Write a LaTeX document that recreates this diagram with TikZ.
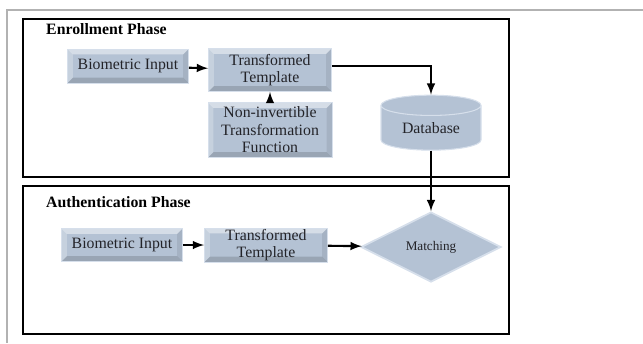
\documentclass[tikz,border=0pt]{standalone}
\usepackage{fontspec}
\setmainfont{Liberation Serif}
\usepackage{xcolor}
\usetikzlibrary{shapes.geometric}
\definecolor{boxfill}{RGB}{180,194,212}
\definecolor{boxedge}{RGB}{214,223,235}
\definecolor{inktext}{RGB}{35,35,40}
\tikzset{
  bevel/.style={path picture={
    \fill[white,opacity=0.45] (path picture bounding box.north west) -- (path picture bounding box.north east)
      -- ([xshift=-3pt,yshift=-3pt]path picture bounding box.north east) -- ([xshift=3pt,yshift=-3pt]path picture bounding box.north west) -- cycle;
    \fill[white,opacity=0.25] (path picture bounding box.north west) -- (path picture bounding box.south west)
      -- ([xshift=3pt,yshift=3pt]path picture bounding box.south west) -- ([xshift=3pt,yshift=-3pt]path picture bounding box.north west) -- cycle;
    \fill[black,opacity=0.15] (path picture bounding box.south west) -- (path picture bounding box.south east)
      -- ([xshift=-3pt,yshift=3pt]path picture bounding box.south east) -- ([xshift=3pt,yshift=3pt]path picture bounding box.south west) -- cycle;
    \fill[black,opacity=0.08] (path picture bounding box.north east) -- (path picture bounding box.south east)
      -- ([xshift=-3pt,yshift=3pt]path picture bounding box.south east) -- ([xshift=-3pt,yshift=-3pt]path picture bounding box.north east) -- cycle;
  }}
}

\begin{document}
\begin{tikzpicture}[x=0.02cm,y=-0.02cm,
  blk/.style={rectangle,fill=boxfill,draw=boxedge,line width=0.5pt,bevel,text=inktext,
    font=\fontsize{9}{10}\selectfont,align=center,inner sep=0pt},
  arr/.style={->,>=latex,line width=1.2pt},
  phase/.style={draw,line width=1.3pt}]
\useasboundingbox (0,0) rectangle (643,343);
\draw[gray!60,line width=0.8pt] (643,10) -- (7,10) -- (7,343);
% enrollment
\draw[phase] (23,19) rectangle (509,177);
\node[anchor=west,font=\bfseries\fontsize{9}{10}\selectfont] (enrol) at (40,29) {Enrollment Phase};
\node[blk,minimum width=121*0.02cm,minimum height=34*0.02cm] (bio1) at (128,66) {Biometric Input};
\node[blk,minimum width=123*0.02cm,minimum height=43*0.02cm] (tt1) at (270,70) {Transformed\\Template};
\node[blk,minimum width=124*0.02cm,minimum height=55*0.02cm] (nif) at (270,130) {Non-invertible\\Transformation\\Function};
\node[cylinder,shape border rotate=90,aspect=0.35,fill=boxfill,draw=boxedge,line width=0.6pt,
  text=inktext,font=\fontsize{9}{10}\selectfont,minimum width=100*0.02cm,minimum height=55*0.02cm,inner sep=0pt] (db) at (431,128) {Database};
\draw[arr] (bio1) -- (tt1);
\draw[arr] (nif) -- (tt1);
\draw[arr] ([yshift=4*0.02cm]tt1.east) -| (db.north);
% authentication
\draw[phase] (23,186) rectangle (509,334);
\node[anchor=west,font=\bfseries\fontsize{9}{10}\selectfont] (auth) at (40,202) {Authentication Phase};
\node[blk,minimum width=121*0.02cm,minimum height=33*0.02cm] (bio2) at (122,245) {Biometric Input};
\node[blk,minimum width=123*0.02cm,minimum height=34*0.02cm] (tt2) at (266,245) {Transformed\\Template};
\node[diamond,fill=boxfill,draw=boxedge,line width=1pt,text=inktext,font=\fontsize{7.5}{9}\selectfont,
  minimum width=140*0.02cm,minimum height=70*0.02cm,aspect=2,inner sep=0pt] (match) at (431,247) {Matching};
\draw[arr] (bio2) -- (tt2);
\draw[arr] (tt2) -- (match);
\draw[arr] (db.south) -- (match.north);
\end{tikzpicture}
\end{document}
